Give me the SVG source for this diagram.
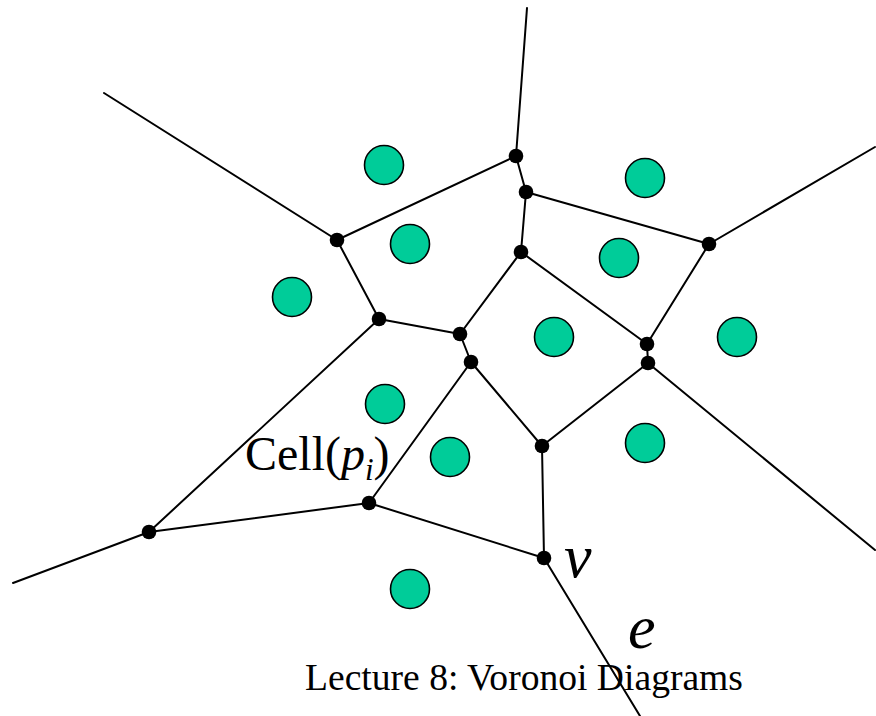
<svg xmlns="http://www.w3.org/2000/svg" width="876" height="716" viewBox="0 0 876 716">
<style>
.e{stroke:#000;stroke-width:2;fill:none;stroke-linecap:round}
.v{fill:#000}
.s{fill:#00CC99;stroke:#000;stroke-width:1.6}
.t{font-family:"Liberation Serif","Times New Roman",serif;fill:#000}
.i{font-style:italic}
</style>
<rect width="876" height="716" fill="#fff"/>
<g id="edges">
<path class="e" d="M516,156 L527,8 M516,156 L526,192 M516,156 L337,240 M337,240 L104,93 M337,240 L379,319 M526,192 L521,252 M526,192 L709,244 M709,244 L875,147 M521,252 L460,334 M521,252 L647,344 M709,244 L647,344 M379,319 L460,334 M379,319 L149,532 M460,334 L471,362 M471,362 L369,503 M471,362 L542,446 M647,344 L648,363 M648,363 L542,446 M648,363 L875,550 M542,446 L544,558 M369,503 L544,558 M369,503 L149,532 M149,532 L13,583 M544,558 L640,716"/>
</g>
<g id="sites">
<circle id="s1" class="s" cx="384" cy="165" r="19.5"/>
<circle id="s2" class="s" cx="645" cy="178" r="19.5"/>
<circle id="s3" class="s" cx="410" cy="244" r="19.5"/>
<circle id="s4" class="s" cx="619" cy="258" r="19.5"/>
<circle id="s5" class="s" cx="292" cy="297" r="19.5"/>
<circle id="s6" class="s" cx="554" cy="337" r="19.5"/>
<circle id="s7" class="s" cx="737" cy="337" r="19.5"/>
<circle id="s8" class="s" cx="385" cy="404" r="19.5"/>
<circle id="s9" class="s" cx="645" cy="443" r="19.5"/>
<circle id="s10" class="s" cx="450" cy="457" r="19.5"/>
<circle id="s11" class="s" cx="410" cy="589" r="19.5"/>
</g>
<g id="vertices">
<circle class="v" cx="516" cy="156" r="7.3"/>
<circle class="v" cx="526" cy="192" r="7.3"/>
<circle class="v" cx="337" cy="240" r="7.3"/>
<circle class="v" cx="521" cy="252" r="7.3"/>
<circle class="v" cx="709" cy="244" r="7.3"/>
<circle class="v" cx="379" cy="319" r="7.3"/>
<circle class="v" cx="460" cy="334" r="7.3"/>
<circle class="v" cx="471" cy="362" r="7.3"/>
<circle class="v" cx="647" cy="344" r="7.3"/>
<circle class="v" cx="648" cy="363" r="7.3"/>
<circle class="v" cx="542" cy="446" r="7.3"/>
<circle class="v" cx="369" cy="503" r="7.3"/>
<circle class="v" cx="149" cy="532" r="7.3"/>
<circle class="v" cx="544" cy="558" r="7.3"/>
</g>
<g id="labels">
<text class="t" x="245" y="470" font-size="48">Cell(<tspan class="i">p</tspan><tspan class="i" font-size="31" dy="10">i</tspan><tspan dy="-10">)</tspan></text>
<text class="t i" x="564" y="577" font-size="62">v</text>
<text class="t i" x="628" y="648" font-size="62">e</text>
<text class="t" x="305" y="690" font-size="37.6">Lecture 8: Voronoi Diagrams</text>
</g>
</svg>
